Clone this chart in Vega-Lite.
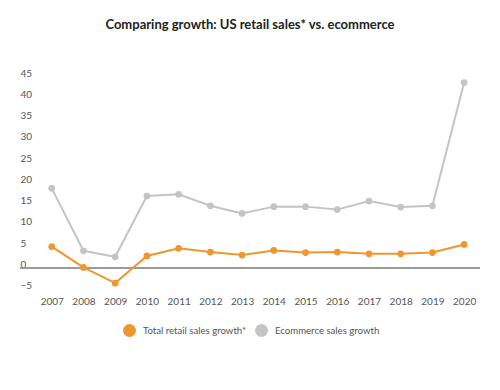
{
  "$schema": "https://vega.github.io/schema/vega-lite/v6.json",
  "autosize": {"type": "none"},
  "width": 460,
  "height": 212.5,
  "padding": {"left": 20, "top": 77, "right": 20, "bottom": 100},
  "background": "#ffffff",
  "title": {
    "text": "Comparing growth: US retail sales* vs. ecommerce",
    "font": "Lato",
    "fontSize": 13,
    "fontWeight": "bold",
    "color": "#222222",
    "anchor": "middle",
    "offset": 36
  },
  "config": {
    "view": {"stroke": null},
    "font": "Lato",
    "axis": {"labelOverlap": false}
  },
  "data": {
    "values": [
      {"year": 2007, "series": "Total retail sales growth*", "value": 5.1},
      {"year": 2008, "series": "Total retail sales growth*", "value": 0.2},
      {"year": 2009, "series": "Total retail sales growth*", "value": -3.5},
      {"year": 2010, "series": "Total retail sales growth*", "value": 2.9},
      {"year": 2011, "series": "Total retail sales growth*", "value": 4.7},
      {"year": 2012, "series": "Total retail sales growth*", "value": 3.8},
      {"year": 2013, "series": "Total retail sales growth*", "value": 3.1},
      {"year": 2014, "series": "Total retail sales growth*", "value": 4.2},
      {"year": 2015, "series": "Total retail sales growth*", "value": 3.7},
      {"year": 2016, "series": "Total retail sales growth*", "value": 3.8},
      {"year": 2017, "series": "Total retail sales growth*", "value": 3.4},
      {"year": 2018, "series": "Total retail sales growth*", "value": 3.4},
      {"year": 2019, "series": "Total retail sales growth*", "value": 3.7},
      {"year": 2020, "series": "Total retail sales growth*", "value": 5.6},
      {"year": 2007, "series": "Ecommerce sales growth", "value": 18.8},
      {"year": 2008, "series": "Ecommerce sales growth", "value": 4.1},
      {"year": 2009, "series": "Ecommerce sales growth", "value": 2.7},
      {"year": 2010, "series": "Ecommerce sales growth", "value": 17.0},
      {"year": 2011, "series": "Ecommerce sales growth", "value": 17.4},
      {"year": 2012, "series": "Ecommerce sales growth", "value": 14.7},
      {"year": 2013, "series": "Ecommerce sales growth", "value": 12.9},
      {"year": 2014, "series": "Ecommerce sales growth", "value": 14.5},
      {"year": 2015, "series": "Ecommerce sales growth", "value": 14.5},
      {"year": 2016, "series": "Ecommerce sales growth", "value": 13.8},
      {"year": 2017, "series": "Ecommerce sales growth", "value": 15.8},
      {"year": 2018, "series": "Ecommerce sales growth", "value": 14.4},
      {"year": 2019, "series": "Ecommerce sales growth", "value": 14.7},
      {"year": 2020, "series": "Ecommerce sales growth", "value": 43.7}
    ]
  },
  "encoding": {
    "x": {"field": "year", "type": "quantitative", "scale": {"domain": [2006, 2020.5], "nice": false, "zero": false},
      "axis": {"values": [2007,2008,2009,2010,2011,2012,2013,2014,2015,2016,2017,2018,2019,2020], "format": "d", "title": null, "grid": false, "ticks": false, "domain": false, "labelOverlap": false, "labelPadding": 7, "labelFontSize": 10, "labelColor": "#555555", "labelFont": "Lato"}},
    "y": {"field": "value", "type": "quantitative", "scale": {"domain": [-5, 45], "nice": false},
      "axis": {"values": [-5,0,5,10,15,20,25,30,35,40,45], "title": null, "grid": false, "ticks": false, "tickSize": 0, "domain": false, "labelOverlap": false, "labelAlign": "left", "labelBaseline": "alphabetic", "labelPadding": 0, "labelOffset": -1, "labelFontSize": 10, "labelColor": "#555555", "labelFont": "Lato"}},
    "color": {"field": "series", "type": "nominal",
      "scale": {"domain": ["Total retail sales growth*", "Ecommerce sales growth"], "range": ["#F0962F", "#C4C4C4"]},
      "legend": {"title": null, "orient": "none", "legendX": 103, "legendY": 247, "padding": 0, "direction": "horizontal", "symbolType": "circle", "symbolSize": 169, "symbolOpacity": 1, "symbolStrokeWidth": 0, "labelFontSize": 9.6, "labelColor": "#555555", "labelFont": "Lato", "columnPadding": 8, "labelOffset": 7}}
  },
  "layer": [
    {
      "mark": {"type": "rule", "color": "#9a9a9a", "strokeWidth": 1},
      "encoding": {"y": {"datum": 0, "type": "quantitative"}, "x": null, "color": null}
    },
    {
      "mark": {"type": "line", "strokeWidth": 2}
    },
    {
      "mark": {"type": "point", "filled": true, "size": 45, "opacity": 1}
    }
  ]
}
